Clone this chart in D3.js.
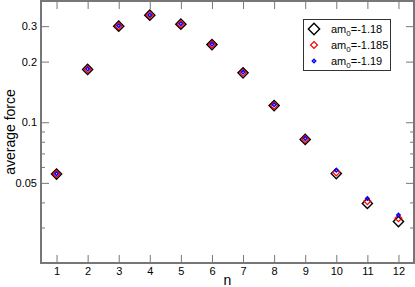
<!DOCTYPE html>
<html>
<head>
<meta charset="utf-8">
<script src="https://cdn.jsdelivr.net/npm/d3@7"></script>
<style>
  body { margin: 0; background: #fff; }
  svg { display: block; font-family: "Liberation Sans", Arial, sans-serif; }
</style>
</head>
<body>
<div id="chart"></div>
<script>
// average force vs n, three values of am0

const nValues = [1, 2, 3, 4, 5, 6, 7, 8, 9, 10, 11, 12];
const force118 = [0.0553, 0.183, 0.300, 0.340, 0.307, 0.243, 0.176, 0.121, 0.0822, 0.0556, 0.0395, 0.0321];
const force1185 = [0.0554, 0.183, 0.300, 0.341, 0.307, 0.243, 0.176, 0.121, 0.0825, 0.0564, 0.0406, 0.0334];
const force119 = [0.0555, 0.184, 0.301, 0.341, 0.308, 0.244, 0.177, 0.122, 0.0830, 0.0577, 0.0418, 0.0346];
const seriesNames = ["-1.18", "-1.185", "-1.19"];
const yMajorTicks = [0.05, 0.1, 0.2, 0.3];
const yMinorTicks = [0.03, 0.04, 0.06, 0.07, 0.08, 0.09];

const W = 415, H = 287;
const plot = { left: 41, right: 414, top: 1, bottom: 263 };
const axisColor = "#777";

const svg = d3.select("#chart").append("svg")
  .attr("width", W)
  .attr("height", H);

const x = d3.scaleLinear().domain([0.5, 12.5]).range([plot.left, plot.right]);
const y = d3.scaleLog().domain([0.02, 0.4]).range([plot.bottom, plot.top]);

// axes (ticks point inward)
function styleAxis(g) {
  g.select(".domain").remove();
  g.selectAll(".tick line").attr("stroke", axisColor);
  g.selectAll(".tick text").attr("fill", "#000").style("font-size", "11px");
}

svg.append("g")
  .attr("transform", `translate(0, ${plot.bottom})`)
  .call(d3.axisBottom(x).tickValues(nValues).tickSize(-8).tickPadding(4).tickFormat(d3.format("d")))
  .call(styleAxis);

svg.append("g")
  .attr("transform", `translate(0, ${plot.top})`)
  .call(d3.axisTop(x).tickValues(nValues).tickSize(-8).tickFormat(""))
  .call(styleAxis);

svg.append("g")
  .attr("transform", `translate(${plot.left}, 0)`)
  .call(d3.axisLeft(y).tickValues(yMajorTicks).tickSize(-8).tickPadding(4).tickFormat(d => String(d)))
  .call(styleAxis);

svg.append("g")
  .attr("transform", `translate(${plot.left}, 0)`)
  .call(d3.axisLeft(y).tickValues(yMinorTicks).tickSize(-4).tickFormat(""))
  .call(styleAxis);

svg.append("g")
  .attr("transform", `translate(${plot.right}, 0)`)
  .call(d3.axisRight(y).tickValues(yMajorTicks).tickSize(-8).tickFormat(""))
  .call(styleAxis);

svg.append("g")
  .attr("transform", `translate(${plot.right}, 0)`)
  .call(d3.axisRight(y).tickValues(yMinorTicks).tickSize(-4).tickFormat(""))
  .call(styleAxis);

// frame
svg.append("rect")
  .attr("x", plot.left)
  .attr("y", plot.top)
  .attr("width", plot.right - plot.left)
  .attr("height", plot.bottom - plot.top)
  .attr("fill", "none")
  .attr("stroke", axisColor)
  .attr("stroke-width", 2);

// axis labels
svg.append("text")
  .attr("x", (plot.left + plot.right) / 2)
  .attr("y", 285)
  .attr("text-anchor", "middle")
  .style("font-size", "14px")
  .text("n");

svg.append("text")
  .attr("transform", `translate(15, ${(plot.top + plot.bottom) / 2}) rotate(-90)`)
  .attr("text-anchor", "middle")
  .style("font-size", "14px")
  .text("average force");

// markers: rotated squares
const series = [
  { values: force118, color: "#000", size: 52, width: 1.4 },
  { values: force1185, color: "#ff0000", size: 24, width: 1.2 },
  { values: force119, color: "#0000ff", size: 6, width: 1.4 }
];

series.forEach(s => {
  svg.append("g").selectAll("path")
    .data(nValues)
    .join("path")
    .attr("transform", (d, i) => `translate(${x(d)}, ${y(s.values[i])}) rotate(45)`)
    .attr("d", d3.symbol(d3.symbolSquare, s.size))
    .attr("fill", "none")
    .attr("stroke", s.color)
    .attr("stroke-width", s.width);
});

// legend
const legend = svg.append("g");
legend.append("rect")
  .attr("x", 303.5)
  .attr("y", 19.5)
  .attr("width", 87)
  .attr("height", 51)
  .attr("fill", "#fff")
  .attr("stroke", "#333")
  .attr("stroke-width", 1);

const legendSizes = [64, 24, 6];
series.forEach((s, i) => {
  const cy = 29 + i * 16;
  legend.append("path")
    .attr("transform", `translate(314, ${cy}) rotate(45)`)
    .attr("d", d3.symbol(d3.symbolSquare, legendSizes[i]))
    .attr("fill", "none")
    .attr("stroke", s.color)
    .attr("stroke-width", s.width);
  const t = legend.append("text")
    .attr("x", 331)
    .attr("y", cy + 4)
    .style("font-size", "11px");
  t.append("tspan").text("am");
  t.append("tspan").attr("dy", 3).style("font-size", "8px").text("0");
  t.append("tspan").attr("dy", -3).text("=" + seriesNames[i]);
});
</script>
</body>
</html>
